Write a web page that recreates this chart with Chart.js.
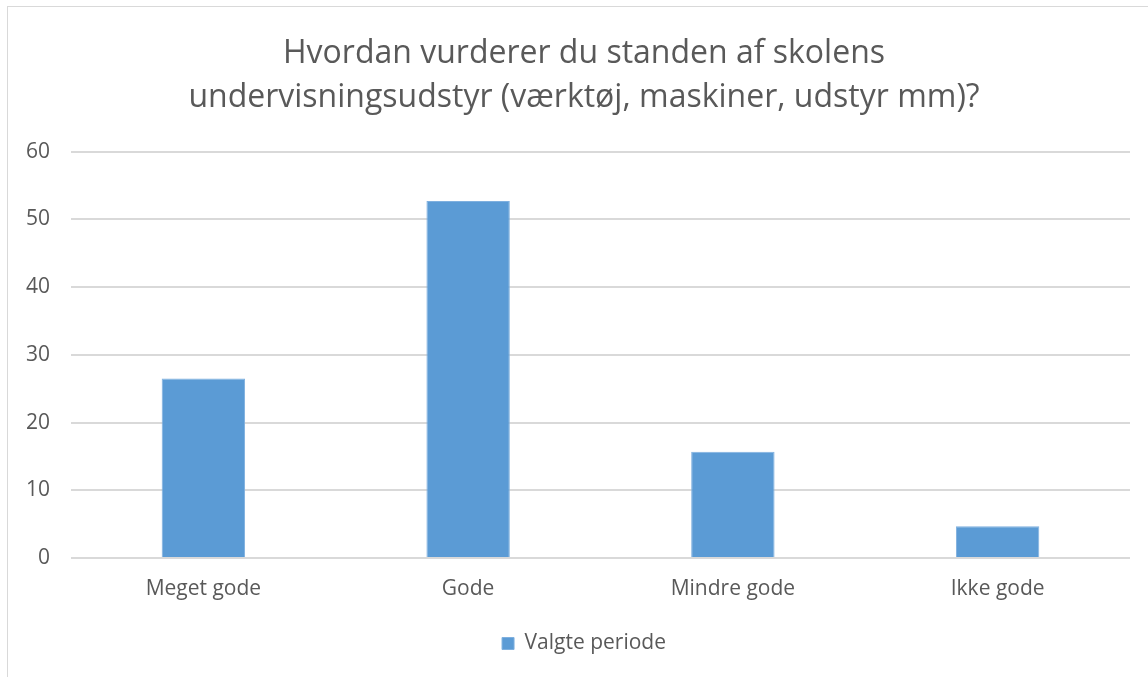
<!DOCTYPE html>
<html>
<head>
<meta charset="utf-8">
<script src="https://cdn.jsdelivr.net/npm/chart.js@4/dist/chart.umd.min.js"></script>
<style>
  body { margin: 0; background: #ffffff; overflow: hidden; }
  #frame { position: absolute; left: 7px; top: 6px; width: 1200px; height: 700px; border-left: 1px solid #d9d9d9; border-top: 1px solid #d9d9d9; }
  #chart { position: absolute; left: 0; top: 0; }
</style>
</head>
<body>
<div id="frame"></div>
<!-- the original chart box runs past the right edge of the picture, so the canvas does too -->
<canvas id="chart" width="1168" height="677"></canvas>
<script>
var categories = ['Meget gode', 'Gode', 'Mindre gode', 'Ikke gode'];
var valgte_periode = [26.5, 52.7, 15.7, 4.7];
var series_name = 'Valgte periode';
var title_lines = ['Hvordan vurderer du standen af skolens', 'undervisningsudstyr (værktøj, maskiner, udstyr mm)?'];

var text_color = '#595959';
var font_family = "'Open Sans', Lato, sans-serif";

var ctx = document.getElementById('chart').getContext('2d');
var chart = new Chart(ctx, {
    type: 'bar',
    data: {
        labels: categories,
        datasets: [{
            label: series_name,
            backgroundColor: '#5b9bd5',
            borderColor: '#7fb0df',
            borderWidth: 1,
            data: valgte_periode,
            barPercentage: 0.315,
            categoryPercentage: 1
        }]
    },
    options: {
        responsive: false,
        animation: false,
        layout: { padding: { top: 31, right: 0, bottom: 13, left: 0 } },
        plugins: {
            tooltip: { enabled: false },
            title: {
                display: true,
                text: title_lines,
                color: text_color,
                font: { family: font_family, size: 32, weight: 'normal', lineHeight: 1.4 },
                padding: { top: 0, bottom: 31 }
            },
            legend: {
                position: 'bottom',
                labels: {
                    color: text_color,
                    font: { family: font_family, size: 21 },
                    boxWidth: 12,
                    boxHeight: 12,
                    padding: 10
                }
            }
        },
        scales: {
            x: {
                grid: { display: false, drawTicks: false },
                border: { display: false },
                ticks: { color: text_color, font: { family: font_family, size: 21 }, padding: 18 },
                afterFit: function(scale) { scale.height = 65; }
            },
            y: {
                min: 0,
                max: 60,
                ticks: { stepSize: 10, color: text_color, font: { family: font_family, size: 21 }, padding: 21 },
                grid: { color: '#d9d9d9', lineWidth: 2, drawTicks: false },
                border: { display: false },
                afterFit: function(scale) { scale.width = 71; }
            },
            // empty spacer on the right
            spacer: {
                position: 'right',
                grid: { display: false, drawTicks: false },
                border: { display: false },
                ticks: { display: false },
                afterFit: function(scale) { scale.width = 38; }
            }
        }
    }
});
</script>
</body>
</html>
